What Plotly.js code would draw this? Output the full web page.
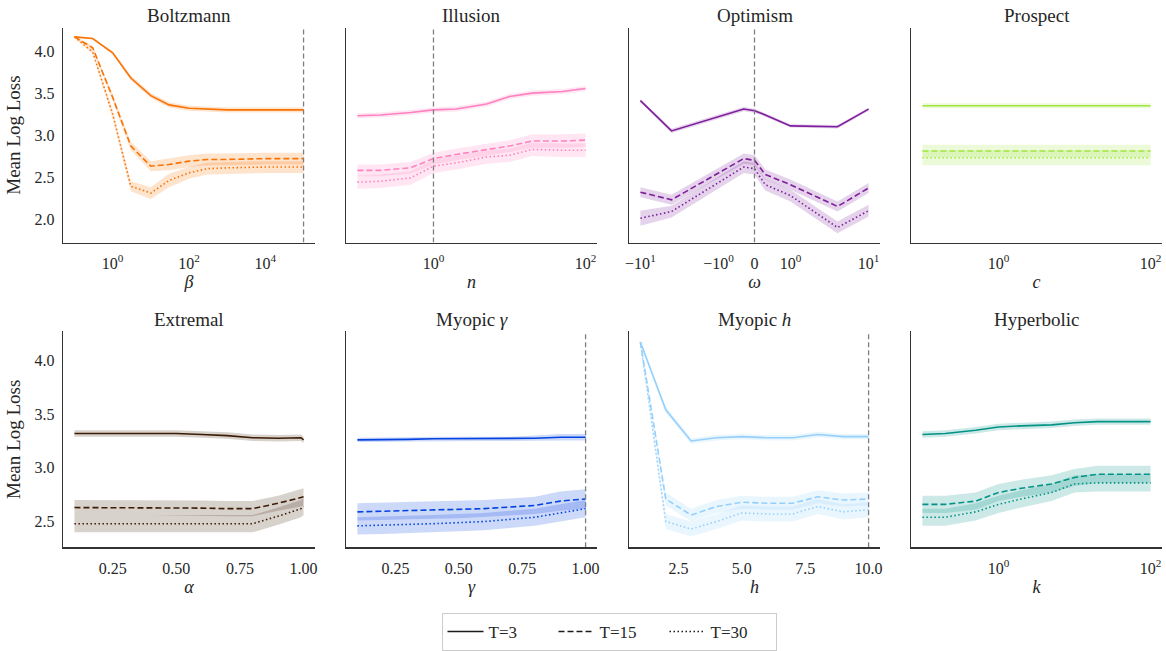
<!DOCTYPE html>
<html><head><meta charset="utf-8">
<script src="https://cdn.plot.ly/plotly-3.0.1.min.js"></script>
<style>html,body{margin:0;padding:0;background:#fff}#chart{width:1166px;height:651px}</style>
</head><body><div id="chart"></div>
<script>
// ---- data ----
const legendLabels = ["T=3", "T=15", "T=30"];
const panelTitles = ["Boltzmann", "Illusion", "Optimism", "Prospect", "Extremal", "Myopic <i>γ</i>", "Myopic <i>h</i>", "Hyperbolic"];
const xLabels = ["<i>β</i>", "<i>n</i>", "<i>ω</i>", "<i>c</i>", "<i>α</i>", "<i>γ</i>", "<i>h</i>", "<i>k</i>"];

const betaX = [0.1, 0.3, 1, 3, 10, 30, 100, 300, 1000, 10000, 100000];
const boltz3 = [4.17, 4.15, 3.98, 3.68, 3.47, 3.36, 3.32, 3.31, 3.30, 3.30, 3.30];
const boltz15 = [4.17, 4.04, 3.45, 2.87, 2.63, 2.65, 2.69, 2.71, 2.71, 2.72, 2.72];
const boltz30 = [4.17, 3.99, 3.25, 2.39, 2.31, 2.46, 2.55, 2.60, 2.61, 2.62, 2.62];
const boltzE3 = [0.01, 0.01, 0.02, 0.03, 0.03, 0.03, 0.03, 0.03, 0.03, 0.03, 0.03];
const boltzE15 = [0.01, 0.02, 0.04, 0.05, 0.06, 0.07, 0.07, 0.07, 0.07, 0.07, 0.07];
const boltzE30 = [0.01, 0.02, 0.05, 0.06, 0.07, 0.08, 0.07, 0.07, 0.07, 0.07, 0.07];

const nX = [0.1, 0.2, 0.5, 1, 2, 5, 10, 20, 50, 100];
const illu3 = [3.23, 3.24, 3.27, 3.30, 3.31, 3.37, 3.46, 3.50, 3.52, 3.555];
const illu15 = [2.58, 2.58, 2.61, 2.72, 2.77, 2.83, 2.87, 2.93, 2.93, 2.94];
const illu30 = [2.44, 2.45, 2.49, 2.63, 2.67, 2.74, 2.76, 2.83, 2.82, 2.82];
const illuE3 = [0.03, 0.03, 0.03, 0.03, 0.03, 0.03, 0.03, 0.03, 0.03, 0.03];
const illuE15 = [0.07, 0.07, 0.07, 0.07, 0.07, 0.07, 0.07, 0.08, 0.08, 0.08];
const illuE30 = [0.08, 0.08, 0.08, 0.08, 0.08, 0.08, 0.08, 0.08, 0.08, 0.08];

const omegaX = [-10, -4, -0.3, 0, 0.3, 1, 4, 10];
const opt3 = [3.41, 3.05, 3.31, 3.29, 3.24, 3.11, 3.10, 3.31];
const opt15 = [2.32, 2.23, 2.72, 2.70, 2.53, 2.41, 2.15, 2.37];
const opt30 = [2.01, 2.09, 2.62, 2.60, 2.41, 2.28, 1.90, 2.10];
const optE3 = [0.02, 0.025, 0.025, 0.025, 0.02, 0.02, 0.02, 0.02];
const optE15 = [0.06, 0.06, 0.06, 0.06, 0.06, 0.06, 0.06, 0.06];
const optE30 = [0.09, 0.07, 0.07, 0.07, 0.07, 0.07, 0.07, 0.07];

const cX = [0.1, 0.2, 0.5, 1, 2, 5, 10, 20, 50, 100];
const pros3 = [3.35, 3.35, 3.35, 3.355, 3.355, 3.35, 3.35, 3.355, 3.35, 3.35];
const pros15 = [2.81, 2.81, 2.81, 2.81, 2.81, 2.81, 2.81, 2.81, 2.81, 2.81];
const pros30 = [2.73, 2.73, 2.73, 2.73, 2.73, 2.73, 2.73, 2.73, 2.73, 2.73];
const prosE3 = [0.03, 0.03, 0.03, 0.03, 0.03, 0.03, 0.03, 0.03, 0.03, 0.03];
const prosE15 = [0.075, 0.075, 0.075, 0.075, 0.075, 0.075, 0.075, 0.075, 0.075, 0.075];
const prosE30 = [0.09, 0.09, 0.09, 0.09, 0.09, 0.09, 0.09, 0.09, 0.09, 0.09];

const alphaX = [0.1, 0.2, 0.3, 0.4, 0.5, 0.6, 0.7, 0.8, 0.9, 0.99, 1.0];
const ext3 = [3.32, 3.32, 3.32, 3.32, 3.32, 3.31, 3.30, 3.28, 3.275, 3.28, 3.26];
const ext15 = [2.63, 2.63, 2.63, 2.63, 2.63, 2.625, 2.62, 2.62, 2.67, 2.72, 2.73];
const ext30 = [2.48, 2.48, 2.48, 2.48, 2.48, 2.48, 2.48, 2.48, 2.55, 2.62, 2.64];
const extE3 = [0.03, 0.03, 0.03, 0.03, 0.03, 0.03, 0.03, 0.03, 0.03, 0.03, 0.03];
const extE15 = [0.07, 0.07, 0.07, 0.07, 0.07, 0.07, 0.07, 0.07, 0.07, 0.08, 0.08];
const extE30 = [0.08, 0.08, 0.08, 0.08, 0.08, 0.08, 0.08, 0.08, 0.08, 0.08, 0.08];

const gammaX = [0.1, 0.2, 0.3, 0.4, 0.5, 0.6, 0.7, 0.8, 0.9, 1.0];
const myg3 = [3.26, 3.26, 3.265, 3.27, 3.27, 3.27, 3.27, 3.275, 3.285, 3.285];
const myg15 = [2.59, 2.595, 2.60, 2.605, 2.61, 2.62, 2.635, 2.65, 2.69, 2.71];
const myg30 = [2.46, 2.465, 2.47, 2.48, 2.49, 2.50, 2.52, 2.54, 2.58, 2.62];
const mygE3 = [0.02, 0.02, 0.02, 0.02, 0.02, 0.02, 0.02, 0.025, 0.03, 0.03];
const mygE15 = [0.08, 0.08, 0.08, 0.08, 0.08, 0.08, 0.08, 0.08, 0.09, 0.09];
const mygE30 = [0.08, 0.08, 0.08, 0.08, 0.08, 0.08, 0.08, 0.08, 0.08, 0.08];

const hX = [1, 2, 3, 4, 5, 6, 7, 8, 9, 10];
const myh3 = [4.17, 3.54, 3.25, 3.28, 3.29, 3.28, 3.28, 3.31, 3.29, 3.29];
const myh15 = [4.17, 2.71, 2.56, 2.64, 2.68, 2.67, 2.67, 2.73, 2.70, 2.71];
const myh30 = [4.17, 2.50, 2.43, 2.50, 2.58, 2.57, 2.57, 2.64, 2.59, 2.61];
const myhE3 = [0.01, 0.03, 0.025, 0.025, 0.025, 0.025, 0.025, 0.025, 0.025, 0.025];
const myhE15 = [0.01, 0.06, 0.06, 0.06, 0.06, 0.06, 0.06, 0.06, 0.06, 0.06];
const myhE30 = [0.01, 0.07, 0.07, 0.07, 0.07, 0.07, 0.07, 0.07, 0.07, 0.07];

const kX = [0.1, 0.2, 0.5, 1, 2, 5, 10, 20, 50, 100];
const hyp3 = [3.31, 3.32, 3.35, 3.38, 3.39, 3.40, 3.42, 3.43, 3.43, 3.43];
const hyp15 = [2.66, 2.66, 2.69, 2.77, 2.81, 2.85, 2.91, 2.94, 2.94, 2.94];
const hyp30 = [2.54, 2.54, 2.59, 2.66, 2.71, 2.77, 2.85, 2.86, 2.86, 2.86];
const hypE3 = [0.03, 0.03, 0.03, 0.03, 0.03, 0.03, 0.03, 0.03, 0.03, 0.03];
const hypE15 = [0.08, 0.08, 0.08, 0.08, 0.08, 0.08, 0.08, 0.08, 0.08, 0.08];
const hypE30 = [0.08, 0.08, 0.08, 0.08, 0.08, 0.08, 0.08, 0.08, 0.08, 0.08];

// reference (best-fit) parameter markers
const refLines = [
  {panel: 0, x: 100000}, {panel: 1, x: 1}, {panel: 2, x: 0},
  {panel: 5, x: 1.0}, {panel: 6, x: 10}
];

// ---- styles ----
const colors = ["#f97306", "#ff81c0", "#7e1e9c", "#a0e640", "#3d1c06", "#0343df", "#95d0fc", "#029386"];
const dashes = ["solid", "6px,3px", "1.5px,2.5px"];
const FONT = "Liberation Serif, DejaVu Serif, serif";
const TXT = "#262626";
const LINSCALE = 0.46; // symlog linear-region scale for omega axis
function symlog(v) {
  const a = Math.abs(v);
  if (a <= 1) return v * LINSCALE;
  return Math.sign(v) * (LINSCALE + Math.log10(a));
}

const panels = [
  {x: betaX, m: [boltz3, boltz15, boltz30], e: [boltzE3, boltzE15, boltzE30]},
  {x: nX, m: [illu3, illu15, illu30], e: [illuE3, illuE15, illuE30]},
  {x: omegaX.map(symlog), m: [opt3, opt15, opt30], e: [optE3, optE15, optE30]},
  {x: cX, m: [pros3, pros15, pros30], e: [prosE3, prosE15, prosE30]},
  {x: alphaX, m: [ext3, ext15, ext30], e: [extE3, extE15, extE30]},
  {x: gammaX, m: [myg3, myg15, myg30], e: [mygE3, mygE15, mygE30]},
  {x: hX, m: [myh3, myh15, myh30], e: [myhE3, myhE15, myhE30]},
  {x: kX, m: [hyp3, hyp15, hyp30], e: [hypE3, hypE15, hypE30]}
];

function rgba(hex, a) {
  const n = parseInt(hex.slice(1), 16);
  return `rgba(${(n >> 16) & 255},${(n >> 8) & 255},${n & 255},${a})`;
}

const W = 1166, H = 651;
const xPix = [[63, 315], [346, 597], [629, 880], [911, 1162]];
const yPix = [[28, 246], [336, 555]];
const yRanges = [[1.72, 4.28], [2.26, 4.27]];

const traces = [];
panels.forEach((p, i) => {
  const ax = i === 0 ? "" : String(i + 1);
  p.m.forEach((m, s) => {
    const hi = m.map((v, j) => v + p.e[s][j]);
    const lo = m.map((v, j) => v - p.e[s][j]);
    traces.push({
      type: "scatter", mode: "lines", xaxis: "x" + ax, yaxis: "y" + ax,
      x: p.x.concat(p.x.slice().reverse()), y: hi.concat(lo.slice().reverse()),
      fill: "toself", fillcolor: rgba(colors[i], 0.2), line: {width: 0},
      hoverinfo: "skip", showlegend: false
    });
  });
  p.m.forEach((m, s) => {
    traces.push({
      type: "scatter", mode: "lines", xaxis: "x" + ax, yaxis: "y" + ax,
      x: p.x, y: m, line: {color: colors[i], width: 1.6, dash: dashes[s]},
      showlegend: false, name: legendLabels[s]
    });
  });
});
refLines.forEach(r => {
  const ax = r.panel === 0 ? "" : String(r.panel + 1);
  const row = r.panel < 4 ? 0 : 1;
  const xv = r.panel === 2 ? symlog(r.x) : r.x;
  traces.push({
    type: "scatter", mode: "lines", xaxis: "x" + ax, yaxis: "y" + ax,
    x: [xv, xv], y: yRanges[row], line: {color: "#7f7f7f", width: 1.3, dash: "5px,3px"},
    hoverinfo: "skip", showlegend: false
  });
});
legendLabels.forEach((lab, s) => {
  traces.push({
    type: "scatter", mode: "lines", x: [null], y: [null], name: lab,
    line: {color: "#1a1a1a", width: 1.6, dash: dashes[s]}, showlegend: true
  });
});

const layout = {
  width: W, height: H, margin: {l: 0, r: 0, t: 0, b: 0},
  paper_bgcolor: "#fff", plot_bgcolor: "#fff",
  font: {family: FONT, color: TXT, size: 15},
  showlegend: true,
  legend: {
    orientation: "h", x: 609 / W, xanchor: "center", y: 1 - 622 / H, yanchor: "top",
    bordercolor: "#cccccc", borderwidth: 1, bgcolor: "#fff",
    font: {family: FONT, size: 17, color: TXT},
    entrywidth: 60, entrywidthmode: "pixels", itemwidth: 36
  },
  annotations: []
};

const xSpecs = [
  {type: "log", range: [-1.3, 5.3], tickvals: [1, 100, 10000], ticktext: ["10<sup>0</sup>", "10<sup>2</sup>", "10<sup>4</sup>"]},
  {type: "log", range: [-1.15, 2.15], tickvals: [1, 100], ticktext: ["10<sup>0</sup>", "10<sup>2</sup>"]},
  {type: "linear", range: [-1.606, 1.606], tickvals: [-10, -1, 0, 1, 10].map(symlog), ticktext: ["−10<sup>1</sup>", "−10<sup>0</sup>", "0", "10<sup>0</sup>", "10<sup>1</sup>"]},
  {type: "log", range: [-1.15, 2.15], tickvals: [1, 100], ticktext: ["10<sup>0</sup>", "10<sup>2</sup>"]},
  {type: "linear", range: [0.055, 1.045], tickvals: [0.25, 0.5, 0.75, 1.0], ticktext: ["0.25", "0.50", "0.75", "1.00"]},
  {type: "linear", range: [0.055, 1.045], tickvals: [0.25, 0.5, 0.75, 1.0], ticktext: ["0.25", "0.50", "0.75", "1.00"]},
  {type: "linear", range: [0.55, 10.45], tickvals: [2.5, 5, 7.5, 10], ticktext: ["2.5", "5.0", "7.5", "10.0"]},
  {type: "log", range: [-1.15, 2.15], tickvals: [1, 100], ticktext: ["10<sup>0</sup>", "10<sup>2</sup>"]}
];

for (let i = 0; i < 8; i++) {
  const col = i % 4, row = Math.floor(i / 4);
  const ax = i === 0 ? "" : String(i + 1);
  const xd = [xPix[col][0] / W, xPix[col][1] / W];
  const yd = [1 - yPix[row][1] / H, 1 - yPix[row][0] / H];
  const common = {
    showgrid: false, zeroline: false, showline: true, linecolor: "#333333", linewidth: 1.3,
    ticks: "", fixedrange: true, tickfont: {family: FONT, size: 16, color: TXT}
  };
  layout["xaxis" + ax] = Object.assign({}, common, xSpecs[i], {
    domain: xd, anchor: "y" + ax, tickmode: "array", ticklabelstandoff: 6,
    title: {text: xLabels[i], font: {family: FONT, size: 18, color: TXT}, standoff: 4}
  });
  layout["yaxis" + ax] = Object.assign({}, common, {
    domain: yd, anchor: "x" + ax, range: yRanges[row],
    tickmode: "array", ticklabelstandoff: 4,
    tickvals: row === 0 ? [2.0, 2.5, 3.0, 3.5, 4.0] : [2.5, 3.0, 3.5, 4.0],
    ticktext: row === 0 ? ["2.0", "2.5", "3.0", "3.5", "4.0"] : ["2.5", "3.0", "3.5", "4.0"],
    showticklabels: col === 0,
    title: col === 0 ? {text: "Mean Log Loss", font: {family: FONT, size: 19, color: TXT}, standoff: 8} : {text: ""}
  });
  layout.annotations.push({
    text: panelTitles[i], xref: "paper", yref: "paper",
    x: (xd[0] + xd[1]) / 2, y: 1 - (row === 0 ? 16 : 324) / H,
    xanchor: "center", yanchor: "middle", showarrow: false,
    font: {family: FONT, size: 19, color: TXT}
  });
}

Plotly.newPlot("chart", traces, layout, {staticPlot: true, displayModeBar: false});
</script></body></html>
